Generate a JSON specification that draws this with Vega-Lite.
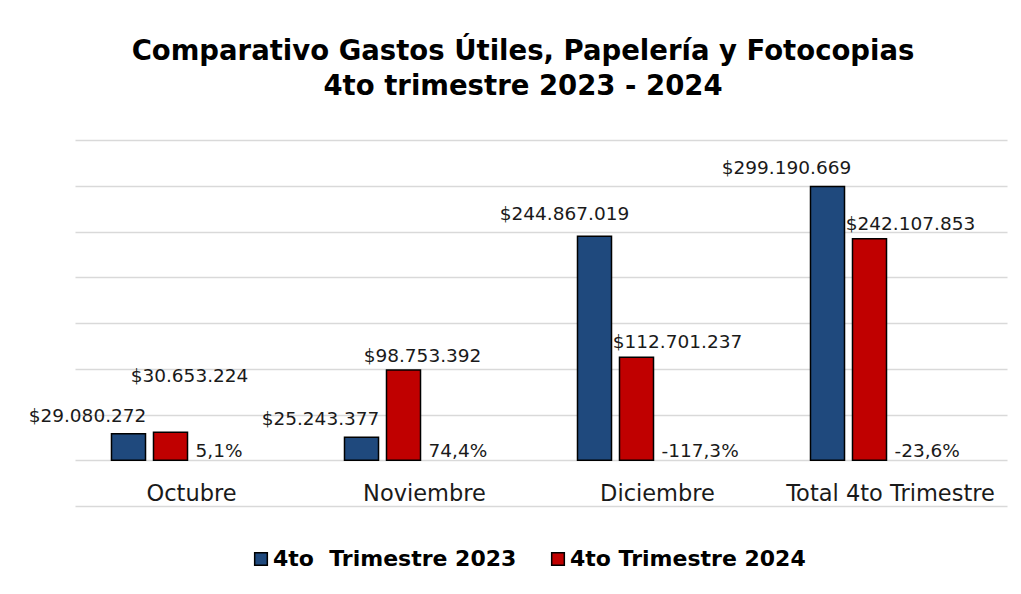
{
  "$schema": "https://vega.github.io/schema/vega-lite/v6.json",
  "width": 932,
  "height": 366,
  "autosize": {"type": "none"},
  "padding": {"left": 75, "top": 140, "right": 14, "bottom": 88},
  "background": "white",
  "config": {
    "locale": {"number": {"decimal": ",", "thousands": ".", "grouping": [3], "currency": ["$", ""], "minus": "-", "percent": "%"}},
    "font": "DejaVu Sans",
    "view": {"stroke": null}
  },
  "title": {
    "text": ["Comparativo Gastos Útiles, Papelería y Fotocopias", "4to trimestre 2023 - 2024"],
    "font": "DejaVu Sans",
    "fontSize": 27.5,
    "fontWeight": "bold",
    "lineHeight": 35,
    "color": "#000000",
    "offset": 40,
    "dx": -18,
    "anchor": "middle"
  },
  "datasets": {
    "gastos": [
      {"mes": "Octubre", "serie": "4to\u00a0 Trimestre 2023", "valor": 29080272},
      {"mes": "Octubre", "serie": "4to Trimestre 2024", "valor": 30653224},
      {"mes": "Noviembre", "serie": "4to\u00a0 Trimestre 2023", "valor": 25243377},
      {"mes": "Noviembre", "serie": "4to Trimestre 2024", "valor": 98753392},
      {"mes": "Diciembre", "serie": "4to\u00a0 Trimestre 2023", "valor": 244867019},
      {"mes": "Diciembre", "serie": "4to Trimestre 2024", "valor": 112701237},
      {"mes": "Total 4to Trimestre", "serie": "4to\u00a0 Trimestre 2023", "valor": 299190669},
      {"mes": "Total 4to Trimestre", "serie": "4to Trimestre 2024", "valor": 242107853}
    ],
    "variacion": [
      {"mes": "Octubre", "serie": "Variación", "valor": 0, "variacion": 0.051},
      {"mes": "Noviembre", "serie": "Variación", "valor": 0, "variacion": 0.744},
      {"mes": "Diciembre", "serie": "Variación", "valor": 0, "variacion": -1.173},
      {"mes": "Total 4to Trimestre", "serie": "Variación", "valor": 0, "variacion": -0.236}
    ]
  },
  "encoding": {
    "x": {
      "field": "mes",
      "type": "nominal",
      "sort": ["Octubre", "Noviembre", "Diciembre", "Total 4to Trimestre"],
      "scale": {"paddingInner": 0, "paddingOuter": 0},
      "axis": {
        "title": null,
        "labelAngle": 0,
        "domain": false,
        "ticks": false,
        "grid": false,
        "labelFontSize": 22.5,
        "labelColor": "#1a1a1a",
        "labelBaseline": "alphabetic",
        "labelPadding": -6,
        "labelLimit": 300
      }
    },
    "xOffset": {
      "field": "serie",
      "type": "nominal",
      "scale": {
        "domain": ["4to\u00a0 Trimestre 2023", "4to Trimestre 2024", "Variación", "Extra"],
        "paddingInner": 0.19,
        "paddingOuter": 0.869
      }
    },
    "y": {
      "field": "valor",
      "type": "quantitative",
      "scale": {"domain": [-50000000, 350000000], "nice": false, "zero": false},
      "axis": {
        "title": null,
        "labels": false,
        "ticks": false,
        "domain": false,
        "values": [-50000000, 0, 50000000, 100000000, 150000000, 200000000, 250000000, 300000000, 350000000],
        "gridColor": "#d9d9d9",
        "gridWidth": 1.5
      }
    }
  },
  "layer": [
    {
      "data": {"name": "gastos"},
      "mark": {"type": "bar", "stroke": "#000000", "strokeWidth": 1.5},
      "encoding": {
        "y2": {"datum": 0},
        "color": {
          "field": "serie",
          "type": "nominal",
          "scale": {"domain": ["4to\u00a0 Trimestre 2023", "4to Trimestre 2024"], "range": ["#1F497D", "#C00000"]},
          "legend": {
            "title": null,
            "orient": "none",
            "legendX": 175,
            "legendY": 408,
            "direction": "horizontal",
            "symbolType": "square",
            "symbolSize": 160,
            "symbolStrokeColor": "#000000",
            "symbolStrokeWidth": 1.5,
            "labelFontSize": 22,
            "labelFontWeight": "bold",
            "labelColor": "#000000",
            "labelLimit": 400,
            "labelOffset": 1,
            "columnPadding": 30,
            "padding": 0
          }
        }
      }
    },
    {
      "data": {"name": "gastos"},
      "transform": [{"filter": "datum.serie !== '4to Trimestre 2024' && datum.mes !== 'Diciembre'"}],
      "mark": {"type": "text", "fontSize": 18.5, "color": "#1a1a1a", "baseline": "alphabetic", "dx": -41, "dy": -12},
      "encoding": {"text": {"field": "valor", "type": "quantitative", "format": "$,.0f"}}
    },
    {
      "data": {"name": "gastos"},
      "transform": [{"filter": "datum.serie !== '4to Trimestre 2024' && datum.mes === 'Diciembre'"}],
      "mark": {"type": "text", "fontSize": 18.5, "color": "#1a1a1a", "baseline": "alphabetic", "dx": -30, "dy": -16},
      "encoding": {"text": {"field": "valor", "type": "quantitative", "format": "$,.0f"}}
    },
    {
      "data": {"name": "gastos"},
      "transform": [{"filter": "datum.serie === '4to Trimestre 2024' && datum.mes === 'Octubre'"}],
      "mark": {"type": "text", "fontSize": 18.5, "color": "#1a1a1a", "baseline": "alphabetic", "dx": 19, "dy": -50},
      "encoding": {"text": {"field": "valor", "type": "quantitative", "format": "$,.0f"}}
    },
    {
      "data": {"name": "gastos"},
      "transform": [{"filter": "datum.serie === '4to Trimestre 2024' && datum.mes === 'Noviembre'"}],
      "mark": {"type": "text", "fontSize": 18.5, "color": "#1a1a1a", "baseline": "alphabetic", "dx": 19, "dy": -8},
      "encoding": {"text": {"field": "valor", "type": "quantitative", "format": "$,.0f"}}
    },
    {
      "data": {"name": "gastos"},
      "transform": [{"filter": "datum.serie === '4to Trimestre 2024' && (datum.mes === 'Diciembre' || datum.mes === 'Total 4to Trimestre')"}],
      "mark": {"type": "text", "fontSize": 18.5, "color": "#1a1a1a", "baseline": "alphabetic", "dx": 41, "dy": -9},
      "encoding": {"text": {"field": "valor", "type": "quantitative", "format": "$,.0f"}}
    },
    {
      "data": {"name": "variacion"},
      "mark": {"type": "text", "fontSize": 18.5, "color": "#1a1a1a", "baseline": "alphabetic", "align": "left", "dx": -17, "dy": -3},
      "encoding": {"text": {"field": "variacion", "type": "quantitative", "format": ".1%"}}
    }
  ]
}
